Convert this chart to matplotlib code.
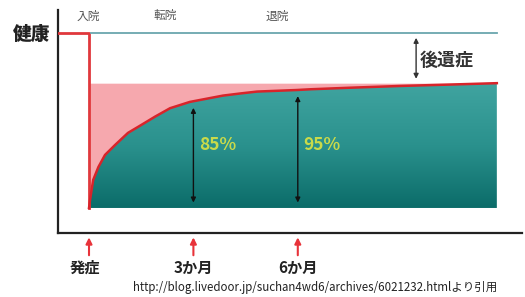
import numpy as np
import matplotlib
matplotlib.use("Agg")
import matplotlib.pyplot as plt
from matplotlib.colors import LinearSegmentedColormap

plt.rcParams['font.family'] = ['Noto Sans CJK JP', 'DejaVu Sans']

# recovery curve: months after onset vs. level (health = 100)
months = [0, 0.03, 0.12, 0.27, 0.46, 0.75, 1.12, 1.5, 1.9, 2.33, 2.9,
          3.85, 4.34, 4.83, 5.98, 6.35, 7.5, 8.94, 10.37, 11.72]
level = [0, 4.6, 16.0, 23.4, 30.3, 36.0, 42.9, 47.4, 52.2, 57.0, 60.6,
         64.2, 65.4, 66.5, 67.4, 67.8, 68.7, 69.7, 70.5, 71.3]
health = 100
plateau = 71.3

stage_labels = ['入院', '転院', '退院']
stage_months = [-0.03, 2.18, 5.4]

mark_labels = ['発症', '3か月', '6か月']
mark_months = [0, 3, 6]

pct_labels = ['85%', '95%']
pct_months = [3, 6]
pct_levels = [60.8, 67.5]

fig = plt.figure(figsize=(5.25, 2.97), dpi=100)
ax = fig.add_axes([58 / 525, 64 / 297, 464 / 525, 223 / 297])
for s in ['top', 'right']:
    ax.spines[s].set_visible(False)
for s in ['left', 'bottom']:
    ax.spines[s].set_color('#222222')
    ax.spines[s].set_linewidth(1.6)
ax.set_xticks([])
ax.set_yticks([])

x = np.array(months)
y = np.array(level)

# pink: lost function above the curve, a bit deeper near the curve
ax.fill_between(x, y, plateau, color='#f6a8ae', lw=0, zorder=1)

# teal: recovered part, vertical gradient clipped to the area under the curve
area = ax.fill_between(x, 0, y, color='none', lw=0, zorder=2)
teal = LinearSegmentedColormap.from_list('teal', ['#0b6c69', '#2a918d', '#40a4a0'])
grad = np.linspace(0, 1, 256).reshape(-1, 1)
img = ax.imshow(grad, cmap=teal, origin='lower', aspect='auto',
                extent=[0, months[-1], 0, plateau], zorder=2)
img.set_clip_path(area.get_paths()[0], transform=ax.transData)
ax.set_xlim(-0.891, 12.443)
ax.set_ylim(-14.3, 113.1)

# health lines
ax.plot([-0.891, 0, 0], [health, health, 0], color='#e0383c', lw=2, zorder=3)
ax.plot([0.06, months[-1]], [health, health], color='#6aa6ae', lw=1.3, zorder=3)
ax.plot(x, y, color='#d8242a', lw=1.8, zorder=4, solid_joinstyle='round')

# double arrows
for m, v in zip(pct_months, pct_levels):
    ax.annotate('', xy=(m, 1.5), xytext=(m, v - 2),
                arrowprops=dict(arrowstyle='<|-|>', color='#111111', lw=1,
                                mutation_scale=7), zorder=5)
for m, lab in zip(pct_months, pct_labels):
    ax.text(m + 0.17, 36, lab, color='#c9da4a', fontsize=12.5,
            fontweight='bold', va='center', ha='left', zorder=6)

ax.annotate('', xy=(9.4, 72.2), xytext=(9.4, 98.8),
            arrowprops=dict(arrowstyle='<|-|>', color='#333333', lw=1,
                            mutation_scale=7), zorder=5)
ax.text(9.51, 84, '後遺症', fontsize=13, fontweight='bold', color='#333333',
        va='center', ha='left')

ax.text(-1.64, 98.9, '健康', fontsize=13.5, fontweight='heavy', color='#222222',
        va='center', ha='center', clip_on=False)

for m, lab in zip(stage_months, stage_labels):
    ax.text(m, 109.7, lab, fontsize=8.5, color='#555555', va='center',
            ha='center', clip_on=False)

# onset / month markers under the axis
for m, lab in zip(mark_months, mark_labels):
    ax.annotate('', xy=(m, -15.2), xytext=(m, -28.6), annotation_clip=False,
                arrowprops=dict(arrowstyle='-|>', color='#e8333a', lw=1.5,
                                mutation_scale=9))
    ax.text(m - (0.11 if m == 0 else 0), -34.3, lab, fontsize=11,
            fontweight='bold', color='#222222', va='center', ha='center',
            clip_on=False)

fig.text(133 / 525, 1 - 288 / 297,
         'http://blog.livedoor.jp/suchan4wd6/archives/6021232.htmlより引用',
         fontsize=8.3, color='#222222', va='center', ha='left')

fig.savefig('out.png', dpi=100)
